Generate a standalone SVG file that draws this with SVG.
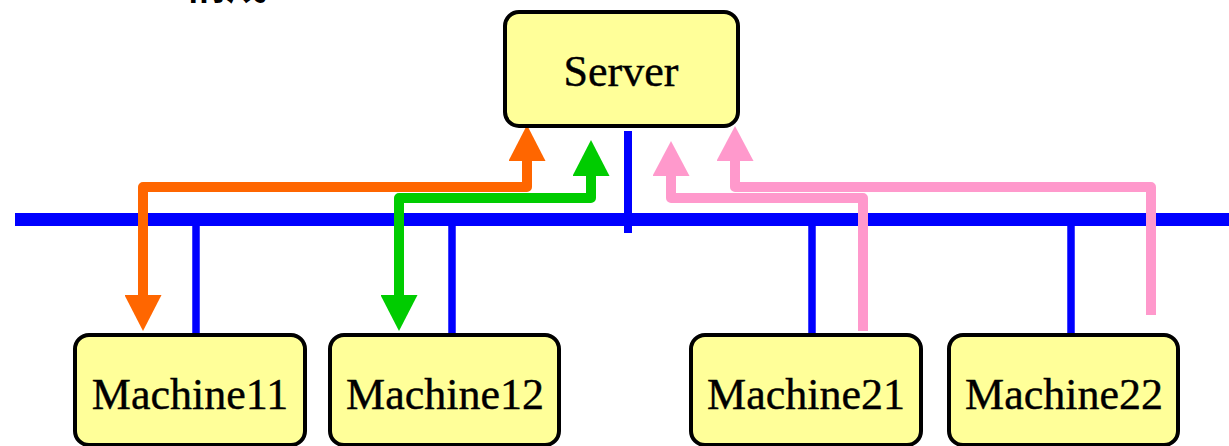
<svg xmlns="http://www.w3.org/2000/svg" width="1229" height="446" viewBox="0 0 1229 446">
  <style>
    .box { fill: #FFFF99; stroke: #000; stroke-width: 4; }
    .label { font-family: "Liberation Serif", "Times New Roman", serif; font-size: 44px; fill: #000; stroke: #000; stroke-width: 0.4; text-anchor: middle; }
    .bus { stroke: #0000FF; fill: none; }
    .flow { fill: none; stroke-width: 10; stroke-linejoin: round; stroke-linecap: butt; }
    .title { font-family: "Liberation Sans", "Noto Sans CJK JP", sans-serif; font-size: 42px; font-weight: bold; fill: #000; }
  </style>
  <defs>
    <marker id="head-orange" markerUnits="userSpaceOnUse" viewBox="0 0 36 37" markerWidth="36" markerHeight="37" refX="1" refY="18.5" orient="auto-start-reverse">
      <path d="M0,0 L36,18.5 L0,37 Z" fill="#FF6600"/>
    </marker>
    <marker id="head-green" markerUnits="userSpaceOnUse" viewBox="0 0 36 37" markerWidth="36" markerHeight="37" refX="1" refY="18.5" orient="auto-start-reverse">
      <path d="M0,0 L36,18.5 L0,37 Z" fill="#00CC00"/>
    </marker>
    <marker id="head-pink" markerUnits="userSpaceOnUse" viewBox="0 0 35 37" markerWidth="35" markerHeight="37" refX="1" refY="18.5" orient="auto">
      <path d="M0,0 L35,18.5 L0,37 Z" fill="#FF99CC"/>
    </marker>
  </defs>

  <rect width="1229" height="446" fill="#FFFFFF"/>

  <!-- heading, running off the top edge -->
  <text class="title" x="184" y="-1">構成</text>

  <!-- network bus and drop lines -->
  <g id="connectors">
    <line class="bus" x1="15" y1="219.5" x2="1229" y2="219.5" stroke-width="13"/>
    <line class="bus" x1="628" y1="131" x2="628" y2="233" stroke-width="8"/>
    <line class="bus" x1="196" y1="226" x2="196" y2="334" stroke-width="7.5"/>
    <line class="bus" x1="452" y1="226" x2="452" y2="334" stroke-width="7.5"/>
    <line class="bus" x1="812" y1="226" x2="812" y2="334" stroke-width="7.5"/>
    <line class="bus" x1="1071" y1="226" x2="1071" y2="334" stroke-width="7.5"/>

    <!-- request / response flows -->
    <path class="flow" stroke="#FF6600" d="M527,160 V187 H143 V296" marker-start="url(#head-orange)" marker-end="url(#head-orange)"/>
    <path class="flow" stroke="#00CC00" d="M591,175 V198 H399 V296" marker-start="url(#head-green)" marker-end="url(#head-green)"/>
    <path class="flow" stroke="#FF99CC" d="M863,331 V198 H671 V175" marker-end="url(#head-pink)"/>
    <path class="flow" stroke="#FF99CC" d="M1151,315 V187 H735 V160" marker-end="url(#head-pink)"/>
  </g>

  <g id="server">
    <rect class="box" x="505" y="12" width="233" height="114" rx="14"/>
    <text class="label" x="621" y="86">Server</text>
  </g>
  <g id="machine11">
    <rect class="box" x="75" y="335" width="230" height="110" rx="14"/>
    <text class="label" x="190" y="409">Machine11</text>
  </g>
  <g id="machine12">
    <rect class="box" x="330" y="335" width="229" height="110" rx="14"/>
    <text class="label" x="445" y="409">Machine12</text>
  </g>
  <g id="machine21">
    <rect class="box" x="691" y="335" width="230" height="110" rx="14"/>
    <text class="label" x="806" y="409">Machine21</text>
  </g>
  <g id="machine22">
    <rect class="box" x="949" y="335" width="229" height="110" rx="14"/>
    <text class="label" x="1064" y="409">Machine22</text>
  </g>
</svg>
